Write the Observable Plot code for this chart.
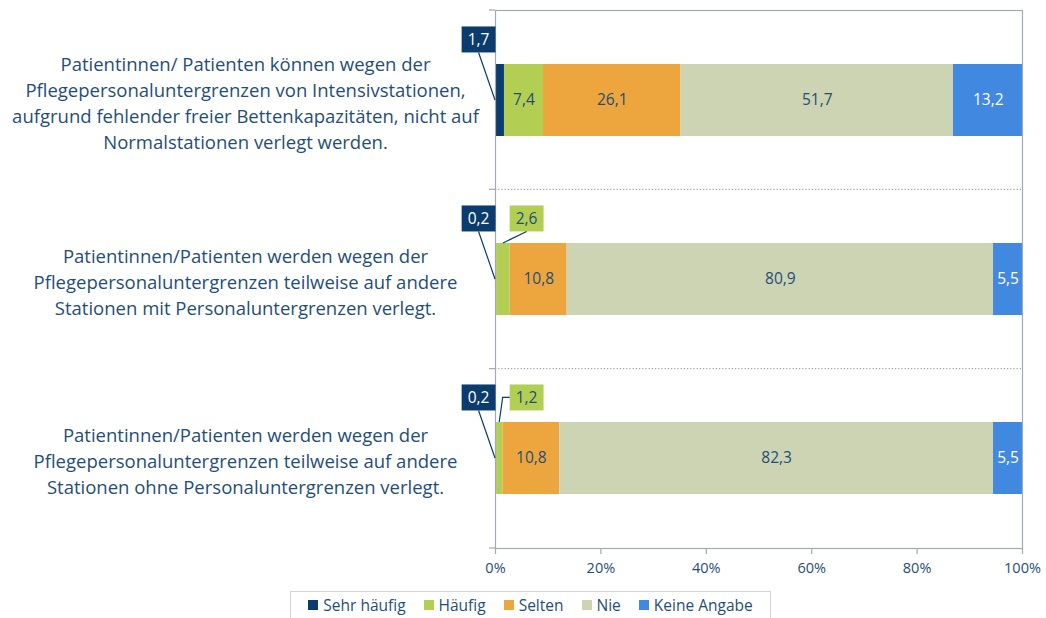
<!DOCTYPE html>
<html><head><meta charset="utf-8">
<script src="https://cdn.jsdelivr.net/npm/d3@7"></script>
<script src="https://cdn.jsdelivr.net/npm/@observablehq/plot@0.6"></script>
<style>
body{margin:0;background:#fff;font-family:"Open Sans",sans-serif;}
#chart svg{display:block;}
#legend{position:absolute;left:290px;top:591px;width:481px;height:28px;border:1px solid #d4d4d4;box-sizing:border-box;
  display:flex;align-items:center;justify-content:center;gap:18px;font-size:15.5px;color:#1f4e79;}
#legend .item{display:flex;align-items:center;gap:5px;}
#legend .sw{width:10px;height:10px;display:inline-block;}
</style></head><body>
<div id="chart"></div>
<div id="legend"></div>
<script>
// ---- data ----
const questions = [
  "Patientinnen/ Patienten können wegen der\nPflegepersonaluntergrenzen von Intensivstationen,\naufgrund fehlender freier Bettenkapazitäten, nicht auf\nNormalstationen verlegt werden.",
  "Patientinnen/Patienten werden wegen der\nPflegepersonaluntergrenzen teilweise auf andere\nStationen mit Personaluntergrenzen verlegt.",
  "Patientinnen/Patienten werden wegen der\nPflegepersonaluntergrenzen teilweise auf andere\nStationen ohne Personaluntergrenzen verlegt."
];
const categories = ["Sehr häufig", "Häufig", "Selten", "Nie", "Keine Angabe"];
const sehrHaeufig = [1.7, 0.2, 0.2];
const haeufig = [7.4, 2.6, 1.2];
const selten = [26.1, 10.8, 10.8];
const nie = [51.7, 80.9, 82.3];
const keineAngabe = [13.2, 5.5, 5.5];
const xTicks = [0, 20, 40, 60, 80, 100];

// ---- styles ----
const colors = ["#0b3c6e", "#b3cf53", "#eda53d", "#ccd4b3", "#4189e0"];
const navy = "#1f4e79";
const grid = "#a3aab5";
const leaderStyle = {"Sehr häufig": ["bottom", "bottom", "bottom"], "Häufig": ["bottom", "bottom", "elbow"]};

const series = [sehrHaeufig, haeufig, selten, nie, keineAngabe];
const rows = [];
questions.forEach((q, qi) => categories.forEach((c, ci) => rows.push({question: q, qi, category: c, value: series[ci][qi]})));
const fmt = v => v.toFixed(1).replace(".", ",");
const isCallout = d => d.value < 5;

const plot = Plot.plot({
  width: 1046, height: 588,
  marginLeft: 495, marginRight: 24, marginTop: 10, marginBottom: 40,
  style: {fontFamily: "'Open Sans', sans-serif", color: navy, background: "white", overflow: "visible"},
  x: {domain: [0, 100], label: null},
  y: {domain: questions, paddingInner: 0.6, paddingOuter: 0.3, label: null, axis: null},
  color: {domain: categories, range: colors},
  marks: [
    Plot.barX(rows, Plot.stackX({x: "value", y: "question", fill: "category"})),
    Plot.frame({stroke: grid, strokeWidth: 1.2}),
    Plot.axisX({ticks: xTicks, tickFormat: d => d + "%", tickSize: 6, tickPadding: 8, stroke: grid, fontSize: 14.5, fill: navy, strokeWidth: 1.2}),
    Plot.text(questions, {y: d => d, frameAnchor: "left", dx: -250, dy: 1, textAnchor: "middle", fontSize: 18.5, lineHeight: 1.42, fill: navy}),
    Plot.text(rows, Plot.stackX({x: "value", y: "question", text: d => isCallout(d) ? null : fmt(d.value),
      fill: d => d.category === "Keine Angabe" ? "white" : navy, fontSize: 15.5})),
    Plot.text(rows, Plot.stackX1({x: "value", y: "question", text: d => (isCallout(d) && d.category === "Sehr häufig") ? fmt(d.value) : null,
      fill: "white", fontSize: 15.5, dx: -17, dy: -60})),
    Plot.text(rows, Plot.stackX1({x: "value", y: "question", text: d => (isCallout(d) && d.category === "Häufig") ? fmt(d.value) : null,
      fill: navy, fontSize: 15.5, dx: 30, dy: -60}))
  ]
});
document.getElementById("chart").appendChild(plot);

// ---- post: separators, callout boxes, leader lines (positions from Plot scales) ----
const svg = d3.select(plot);
const xs = plot.scale("x"), ys = plot.scale("y");
const bw = ys.bandwidth;
const [r0, r1] = ys.range;
const x0 = xs.apply(0), x100 = xs.apply(100);
const boundaries = d3.range(questions.length + 1).map(i => r0 + i * (r1 - r0) / questions.length);
const gSep = svg.insert("g", ":first-child");
boundaries.forEach((y, i) => {
  gSep.append("line").attr("x1", x0 - 6).attr("x2", x0).attr("y1", y).attr("y2", y).attr("stroke", grid).attr("stroke-width", 1.2);
  if (i > 0 && i < questions.length)
    gSep.append("line").attr("x1", x0).attr("x2", x100).attr("y1", y).attr("y2", y)
      .attr("stroke", "#8e8e8e").attr("stroke-width", 1).attr("stroke-dasharray", "1.2,2");
});
const stackPos = {};
questions.forEach((q, qi) => {
  let acc = 0;
  categories.forEach((c, ci) => { const v = series[ci][qi]; stackPos[qi + "|" + c] = [acc, acc + v]; acc += v; });
});
const svgRect = plot.getBoundingClientRect();
const textGroups = plot.querySelectorAll('g[aria-label="text"]');
[[textGroups[2], "Sehr häufig", 0], [textGroups[3], "Häufig", 1]].forEach(([gNode, cat, ci]) => {
  if (!gNode) return;
  const items = rows.filter(d => d.category === cat && isCallout(d));
  d3.select(gNode).selectAll("text").each(function(_, i) {
    const d = items[i];
    if (!d) return;
    const r = this.getBoundingClientRect();
    const cx = r.left - svgRect.left + r.width / 2;
    const cy = r.top - svgRect.top + r.height / 2;
    const w = r.width + 12, h = 26;
    const bx = cx - w / 2, by = cy - h / 2;
    plot.insertBefore(document.createElementNS("http://www.w3.org/2000/svg", "rect"), gNode);
    d3.select(gNode.previousSibling).attr("x", bx).attr("y", by).attr("width", w).attr("height", h).attr("fill", colors[ci]);
    const [a, b] = stackPos[d.qi + "|" + cat];
    const yc = ys.apply(d.question) + bw / 2, yt = ys.apply(d.question);
    const style = leaderStyle[cat][d.qi];
    let pts;
    if (cat === "Sehr häufig") pts = [[cx, by + h], [xs.apply(a), yc]];
    else if (style === "elbow") pts = [[bx, cy], [bx - 7, cy], [xs.apply((a + b) / 2), yt]];
    else pts = [[cx, by + h], [xs.apply((a + b) / 2), yt]];
    svg.append("path").attr("d", d3.line()(pts)).attr("fill", "none").attr("stroke", "#0b3c6e").attr("stroke-width", 1.2);
  });
});

// ---- legend ----
const leg = d3.select("#legend");
categories.forEach((c, i) => {
  const it = leg.append("div").attr("class", "item");
  it.append("span").attr("class", "sw").style("background", colors[i]);
  it.append("span").text(c);
});
</script></body></html>
